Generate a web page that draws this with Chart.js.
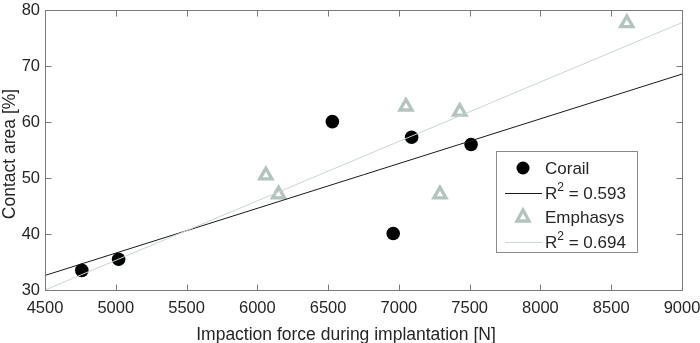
<!DOCTYPE html>
<html>
<head>
<meta charset="utf-8">
<script src="https://cdn.jsdelivr.net/npm/chart.js@4/dist/chart.umd.min.js"></script>
<style>
  html, body { margin: 0; padding: 0; background: #fff; }
  #wrap { width: 700px; height: 343px; position: relative; }
</style>
</head>
<body>
<div id="wrap"><canvas id="contactChart"></canvas></div>
<script>
// values
const corailForce = [4760, 5020, 6530, 6960, 7090, 7510];
const corailArea = [33.5, 35.5, 60.1, 40.1, 57.3, 56.0];
const emphasysForce = [6060, 6150, 7050, 7290, 7430, 8610];
const emphasysArea = [50.5, 47.1, 62.8, 47.1, 61.9, 77.7];
// fitted lines, end points
const fitForce = [4500, 9000];
const corailFit = [32.6, 68.6];
const emphasysFit = [30.0, 77.8];
const xTicks = [4500, 5000, 5500, 6000, 6500, 7000, 7500, 8000, 8500, 9000];
const yTicks = [30, 40, 50, 60, 70, 80];

const legendLabels = ['Corail', 'R2 = 0.593', 'Emphasys', 'R2 = 0.694'];
const xTitle = 'Impaction force during implantation [N]';
const yTitle = 'Contact area [%]';

const FONT = '"Liberation Sans", Arial, Helvetica, sans-serif';
const TEXT = '#262626';
const AXIS = '#7a7a7a';
const EMPH = '#b3c4bf';
const EMPH_LINE = '#c9d6d2';

const toPts = (xs, ys) => xs.map((x, i) => ({ x: x, y: ys[i] }));

// draws "R2 = ..." with a raised 2
function drawLabel(ctx, text, x, y) {
  ctx.textBaseline = 'middle';
  ctx.textAlign = 'left';
  if (text.startsWith('R2')) {
    ctx.font = '17px ' + FONT;
    ctx.fillText('R', x, y);
    let w = ctx.measureText('R').width;
    ctx.font = '12px ' + FONT;
    ctx.fillText('2', x + w, y - 6);
    w += ctx.measureText('2').width;
    ctx.font = '17px ' + FONT;
    ctx.fillText(text.slice(2), x + w, y);
  } else {
    ctx.font = '17px ' + FONT;
    ctx.fillText(text, x, y);
  }
}

const framePlugin = {
  id: 'frame',
  afterDraw(chart) {
    const ctx = chart.ctx;
    const a = chart.chartArea;
    const xs = chart.scales.x, ys = chart.scales.y;
    ctx.save();
    ctx.strokeStyle = AXIS;
    ctx.lineWidth = 1;
    const L = Math.round(a.left) + 0.5, R = Math.round(a.right) + 0.5;
    const T = Math.round(a.top) + 0.5, B = Math.round(a.bottom) + 0.5;
    ctx.strokeRect(L, T, R - L, B - T);
    ctx.beginPath();
    xTicks.forEach(v => {
      const px = Math.round(xs.getPixelForValue(v)) + 0.5;
      ctx.moveTo(px, B); ctx.lineTo(px, B - 6);
      ctx.moveTo(px, T); ctx.lineTo(px, T + 6);
    });
    yTicks.forEach(v => {
      const py = Math.round(ys.getPixelForValue(v)) + 0.5;
      ctx.moveTo(L, py); ctx.lineTo(L + 6, py);
      ctx.moveTo(R, py); ctx.lineTo(R - 6, py);
    });
    ctx.stroke();

    // axis titles
    ctx.fillStyle = TEXT;
    ctx.font = '17.5px ' + FONT;
    ctx.textAlign = 'center';
    ctx.textBaseline = 'alphabetic';
    ctx.fillText(xTitle, 346, 340);
    ctx.save();
    ctx.translate(15, 154);
    ctx.rotate(-Math.PI / 2);
    ctx.fillText(yTitle, 0, 0);
    ctx.restore();

    // legend box
    const bx = 496.5, by = 151.5, bw = 141, bh = 101;
    ctx.fillStyle = '#fff';
    ctx.fillRect(bx, by, bw, bh);
    ctx.strokeStyle = '#8a8a8a';
    ctx.strokeRect(bx, by, bw, bh);
    const rows = [168, 193, 217, 242];
    // Corail marker
    ctx.fillStyle = '#000';
    ctx.beginPath(); ctx.arc(523, rows[0], 6.5, 0, Math.PI * 2); ctx.fill();
    // Corail fit line
    ctx.strokeStyle = '#1a1a1a';
    ctx.beginPath(); ctx.moveTo(505, rows[1] + 0.5); ctx.lineTo(542, rows[1] + 0.5); ctx.stroke();
    // Emphasys marker
    ctx.strokeStyle = EMPH; ctx.lineWidth = 3.3;
    ctx.beginPath();
    ctx.moveTo(523, rows[2] - 7); ctx.lineTo(529, rows[2] + 4); ctx.lineTo(517, rows[2] + 4);
    ctx.closePath(); ctx.stroke();
    // Emphasys fit line
    ctx.strokeStyle = EMPH_LINE; ctx.lineWidth = 1;
    ctx.beginPath(); ctx.moveTo(505, rows[3] + 0.5); ctx.lineTo(542, rows[3] + 0.5); ctx.stroke();
    ctx.fillStyle = TEXT;
    legendLabels.forEach((t, i) => drawLabel(ctx, t, 545, rows[i] + 1));
    ctx.restore();
  }
};

const ctx = document.getElementById('contactChart').getContext('2d');
const contactChart = new Chart(ctx, {
  type: 'scatter',
  data: {
    datasets: [
      {
        label: legendLabels[0],
        data: toPts(corailForce, corailArea),
        pointStyle: 'circle',
        pointRadius: 6.8,
        backgroundColor: '#000',
        borderColor: '#000',
        borderWidth: 0,
        order: 4
      },
      {
        type: 'line',
        label: legendLabels[1],
        data: toPts(fitForce, corailFit),
        borderColor: '#1a1a1a',
        borderWidth: 1,
        pointRadius: 0,
        fill: false,
        order: 2
      },
      {
        label: legendLabels[2],
        data: toPts(emphasysForce, emphasysArea),
        pointStyle: 'triangle',
        pointRadius: 7,
        backgroundColor: 'rgba(0,0,0,0)',
        borderColor: EMPH,
        borderWidth: 3.3,
        order: 3
      },
      {
        type: 'line',
        label: legendLabels[3],
        data: toPts(fitForce, emphasysFit),
        borderColor: EMPH_LINE,
        borderWidth: 1,
        pointRadius: 0,
        fill: false,
        order: 1
      }
    ]
  },
  options: {
    responsive: true,
    maintainAspectRatio: false,
    animation: false,
    layout: { padding: { top: 2, right: 18, left: 0, bottom: 0 } },
    plugins: {
      legend: { display: false },
      tooltip: { enabled: false }
    },
    scales: {
      x: {
        type: 'linear',
        min: 4500,
        max: 9000,
        afterBuildTicks: s => { s.ticks = xTicks.map(v => ({ value: v })); },
        afterFit: s => { s.height = 53; s.paddingLeft = 0; s.paddingRight = 0; },
        grid: { display: false, drawTicks: false },
        border: { display: false },
        ticks: {
          color: TEXT,
          padding: 9,
          maxRotation: 0,
          font: { family: FONT, size: 16.5 },
          callback: v => String(v)
        }
      },
      y: {
        type: 'linear',
        min: 30,
        max: 80,
        afterBuildTicks: s => { s.ticks = yTicks.map(v => ({ value: v })); },
        afterFit: s => { s.width = 45; s.paddingTop = 0; s.paddingBottom = 0; },
        grid: { display: false, drawTicks: false },
        border: { display: false },
        ticks: {
          color: TEXT,
          padding: 5,
          font: { family: FONT, size: 16.5 },
          callback: v => String(v)
        }
      }
    }
  },
  plugins: [framePlugin]
});
</script>
</body>
</html>
